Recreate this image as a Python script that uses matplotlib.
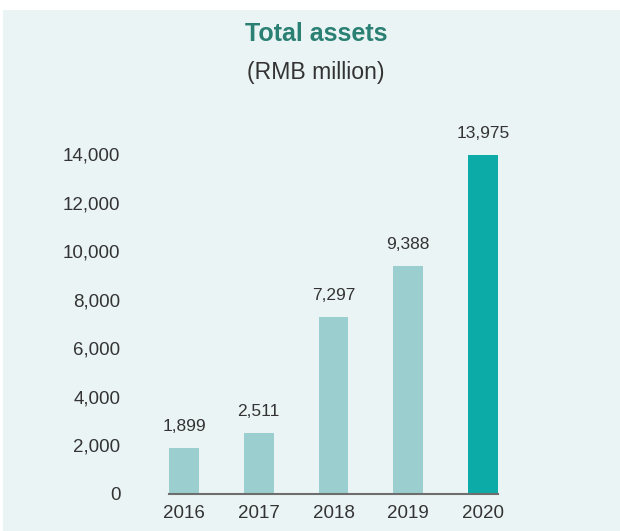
import matplotlib.pyplot as plt
from matplotlib.patches import Rectangle

years = ['2016', '2017', '2018', '2019', '2020']
assets = [1899, 2511, 7297, 9388, 13975]
value_labels = ['1,899', '2,511', '7,297', '9,388', '13,975']
yticks = [0, 2000, 4000, 6000, 8000, 10000, 12000, 14000]
ytick_labels = ['0', '2,000', '4,000', '6,000', '8,000', '10,000', '12,000', '14,000']

plt.rcParams['font.family'] = ['Liberation Sans', 'DejaVu Sans']

bg = '#ebf4f5'
light = '#9bcfcf'
dark = '#0daba7'
txt = '#333333'

fig = plt.figure(figsize=(6.2, 5.31), dpi=100, facecolor='white')
# light panel behind everything, with a thin white margin top and left
fig.patches.append(Rectangle((3/620, 0), 1, 1 - 10/531, transform=fig.transFigure,
                             facecolor=bg, edgecolor='none', zorder=-10))

ax = fig.add_axes([169/620, 1 - 494/531, 329/620, 340/531])
ax.set_facecolor('none')
ax.set_zorder(5)

colors = [light] * (len(years) - 1) + [dark]
x = range(len(years))
ax.bar(x, assets, width=0.4, color=colors, zorder=2)

for i, (v, lab) in enumerate(zip(assets, value_labels)):
    ax.annotate(lab, (i, v), xytext=(0, 10), textcoords='offset points',
                ha='center', va='bottom', fontsize=12.5, color=txt)

ax.set_xlim(-0.2, 4.2)
ax.set_ylim(0, 14000)
ax.set_xticks(list(x))
ax.set_xticklabels(years)
ax.set_yticks(yticks)
ax.set_yticklabels(ytick_labels)
ax.tick_params(axis='y', length=0, pad=35, labelsize=13.5, labelcolor=txt)
ax.tick_params(axis='x', length=0, pad=8, labelsize=13.5, labelcolor=txt)

for s in ['top', 'right', 'left']:
    ax.spines[s].set_visible(False)
ax.spines['bottom'].set_color('#6e6e6e')
ax.spines['bottom'].set_linewidth(1.5)
ax.spines['bottom'].set_zorder(3)

fig.text(316/620, 1 - 34/531, 'Total assets', ha='center', va='center',
         fontsize=18, fontweight='bold', color='#2a8073', zorder=6)
fig.text(316/620, 1 - 72/531, '(RMB million)', ha='center', va='center',
         fontsize=16.6, color=txt, zorder=6)

fig.savefig('out.png', dpi=100, facecolor=fig.get_facecolor())
